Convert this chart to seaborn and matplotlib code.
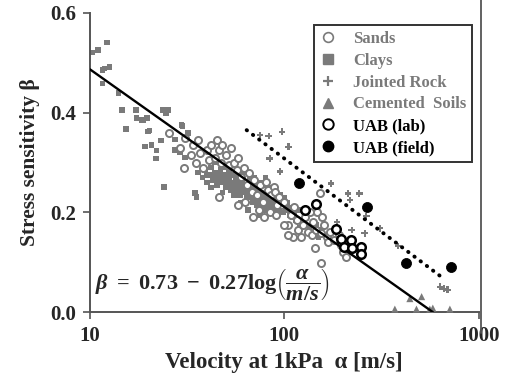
import numpy as np
import pandas as pd
import seaborn as sns
import matplotlib.pyplot as plt
from matplotlib.lines import Line2D

# Data (velocity alpha [m/s], stress sensitivity beta)
sands_x = [25.5, 29, 30.5, 31, 33, 34, 35, 36, 37, 38, 40, 41, 42, 44, 45, 46, 47, 48, 50, 52,
           53, 46, 55, 57, 58, 60, 62, 64, 66, 68, 70, 72, 75, 78, 80, 82, 85, 88, 90, 94,
           58, 63, 69, 74, 79, 84, 91, 96, 100, 104, 108, 111, 112, 116, 118, 122, 125, 128, 132, 135,
           138, 140, 143, 145, 148, 152, 155, 157, 160, 165, 168, 172, 155, 180, 190, 195, 200, 208, 215, 105,
           100, 92]
sands_y = [0.36, 0.33, 0.29, 0.35, 0.315, 0.335, 0.30, 0.345, 0.32, 0.29, 0.325, 0.305, 0.335, 0.31, 0.345, 0.325, 0.30, 0.335, 0.315, 0.295,
           0.33, 0.23, 0.30, 0.285, 0.31, 0.27, 0.29, 0.255, 0.28, 0.24, 0.265, 0.235, 0.255, 0.22, 0.26, 0.245, 0.235, 0.25, 0.24, 0.23,
           0.215, 0.22, 0.19, 0.205, 0.19, 0.20, 0.195, 0.215, 0.22, 0.175, 0.195, 0.15, 0.21, 0.185, 0.165, 0.15, 0.175, 0.19, 0.16, 0.20,
           0.155, 0.18, 0.128, 0.165, 0.20, 0.238, 0.158, 0.19, 0.175, 0.15, 0.14, 0.16, 0.098, 0.145, 0.155, 0.135, 0.12, 0.111, 0.125, 0.155,
           0.175, 0.215]

clays_x = [10.3, 11.0, 12.2, 11.6, 11.9, 12.6, 11.6, 14.0, 14.6, 15.3, 17.2, 17.4, 18.4, 19.6, 19.2, 20.2, 20.7, 22.0, 21.8, 23.2,
           23.8, 24.6, 25.3, 24.1, 29.9, 32.0, 34.6, 35.4, 27.4, 27.4, 29.6, 29, 30.8, 18.8, 19.9,
           36, 38, 39, 40, 41, 42, 43, 44, 45, 46, 47, 48, 49, 50, 51, 52, 53, 54, 55, 56,
           57, 58, 59, 60, 61, 62, 63, 64, 65, 66, 67, 68, 69, 70, 71, 72, 73, 74, 75, 76,
           77, 78, 79, 80, 81, 82, 83, 84, 85, 86, 87, 88, 89, 90, 92, 93, 95, 96, 98, 100,
           102, 104, 106, 108, 110, 112, 115, 118, 120, 125, 130, 135, 140, 145, 150, 155, 42, 50, 55, 60,
           65, 70, 75, 80, 44, 48,
           40, 43, 45, 47, 49, 51, 52, 54, 56, 57, 58, 60, 61, 62, 64, 65, 66, 68, 69, 70,
           72, 73, 74, 76, 77, 78, 80, 82, 83, 85, 86, 88, 90, 92, 94, 97, 99, 103, 107, 113]
clays_y = [0.521, 0.526, 0.541, 0.486, 0.489, 0.492, 0.459, 0.44, 0.405, 0.367, 0.405, 0.389, 0.385, 0.389, 0.332, 0.364, 0.335, 0.324, 0.308, 0.344,
           0.405, 0.399, 0.405, 0.251, 0.373, 0.359, 0.239, 0.231, 0.346, 0.325, 0.375, 0.32, 0.31, 0.385, 0.362,
           0.28, 0.27, 0.285, 0.26, 0.275, 0.29, 0.265, 0.28, 0.255, 0.27, 0.285, 0.26, 0.275, 0.25, 0.265, 0.28, 0.245, 0.26, 0.275, 0.24,
           0.255, 0.27, 0.235, 0.25, 0.265, 0.28, 0.24, 0.225, 0.255, 0.27, 0.235, 0.25, 0.22, 0.245, 0.26, 0.215, 0.23, 0.245, 0.26, 0.21,
           0.225, 0.24, 0.255, 0.205, 0.22, 0.235, 0.25, 0.215, 0.23, 0.245, 0.20, 0.215, 0.23, 0.245, 0.205, 0.22, 0.235, 0.20, 0.215, 0.23,
           0.205, 0.22, 0.195, 0.21, 0.19, 0.20, 0.185, 0.205, 0.17, 0.18, 0.19, 0.17, 0.16, 0.175, 0.15, 0.165, 0.25, 0.29, 0.235, 0.22,
           0.205, 0.27, 0.195, 0.27, 0.30, 0.24,
           0.275, 0.275, 0.265, 0.275, 0.265, 0.255, 0.27, 0.25, 0.265, 0.245, 0.26, 0.24, 0.255, 0.245, 0.235, 0.245, 0.26, 0.23, 0.24, 0.235,
           0.225, 0.24, 0.22, 0.235, 0.215, 0.23, 0.225, 0.21, 0.24, 0.22, 0.21, 0.225, 0.21, 0.225, 0.21, 0.22, 0.2, 0.21, 0.2, 0.19]

rock_x = [75, 83, 97, 105, 84, 95, 174, 213, 243, 217, 264, 222, 259, 310, 385, 630, 665, 690, 186]
rock_y = [0.355, 0.353, 0.362, 0.332, 0.308, 0.282, 0.258, 0.238, 0.238, 0.225, 0.192, 0.165, 0.158, 0.168, 0.133, 0.051, 0.047, 0.045, 0.18]

cemented_x = [442, 508, 370, 478, 560, 580, 710]
cemented_y = [0.027, 0.031, 0.006, 0.006, 0.006, 0.008, 0.006]

lab_x = [127, 145, 184, 195, 203, 219, 224, 249, 249]
lab_y = [0.205, 0.217, 0.166, 0.146, 0.131, 0.144, 0.129, 0.130, 0.116]

field_x = [118.7, 267, 422, 720]
field_y = [0.259, 0.210, 0.098, 0.090]

# fitted trend lines (end points)
fit_x = [10, 580]
fit_y = [0.487, 0.0]
upper_x = [64, 650]
upper_y = [0.365, 0.069]

sns.set_theme(style='ticks')
plt.rcParams['font.family'] = ['Liberation Serif', 'DejaVu Serif']
plt.rcParams['font.weight'] = 'bold'
plt.rcParams['mathtext.fontset'] = 'custom'
plt.rcParams['mathtext.rm'] = 'Liberation Serif:bold'
plt.rcParams['mathtext.it'] = 'Liberation Serif:bold:italic'
plt.rcParams['mathtext.bf'] = 'Liberation Serif:bold'

gray = '#7a7a7a'

fig = plt.figure(figsize=(5.11, 3.82), dpi=100)
ax = fig.add_axes([0.176, 0.183, 0.761, 0.783])

sands = pd.DataFrame({'x': sands_x, 'y': sands_y})
clays = pd.DataFrame({'x': clays_x, 'y': clays_y})
rock = pd.DataFrame({'x': rock_x, 'y': rock_y})
cem = pd.DataFrame({'x': cemented_x, 'y': cemented_y})
lab = pd.DataFrame({'x': lab_x, 'y': lab_y})
field = pd.DataFrame({'x': field_x, 'y': field_y})

sns.scatterplot(data=clays, x='x', y='y', ax=ax, marker='s', s=16, color=gray,
                edgecolor='none', zorder=2)
sns.scatterplot(data=sands, x='x', y='y', ax=ax, marker='o', s=26, facecolor='white',
                edgecolor=gray, linewidth=1.4, zorder=3)
sns.scatterplot(data=rock, x='x', y='y', ax=ax, marker='P', s=22, color=gray,
                edgecolor='none', zorder=3)
sns.scatterplot(data=cem, x='x', y='y', ax=ax, marker='^', s=26, color=gray,
                edgecolor='none', zorder=3, clip_on=False)
sns.lineplot(x=fit_x, y=fit_y, ax=ax, color='black', linewidth=1.7, zorder=4)
sns.lineplot(x=upper_x, y=upper_y, ax=ax, color='black', linewidth=2.8,
             linestyle=(0, (0.1, 1.9)), dash_capstyle='round', zorder=4)
sns.scatterplot(data=lab, x='x', y='y', ax=ax, marker='o', s=38, facecolor='white',
                edgecolor='black', linewidth=1.8, zorder=5)
sns.scatterplot(data=field, x='x', y='y', ax=ax, marker='o', s=52, color='black',
                edgecolor='black', zorder=5)

ax.set_xscale('log')
ax.set_xlim(10, 1000)
ax.set_ylim(0, 0.6)
ax.set_xticks([10, 100, 1000])
ax.set_xticklabels(['10', '100', '1000'])
ax.set_yticks([0.0, 0.2, 0.4, 0.6])
ax.set_yticklabels(['0.0', '0.2', '0.4', '0.6'])
ax.minorticks_off()
ax.tick_params(axis='both', direction='out', length=5, width=1.2, color='#555555',
               labelsize=15, pad=5)
for lab_t in ax.get_xticklabels() + ax.get_yticklabels():
    lab_t.set_fontweight('bold')
for side in ['top', 'right']:
    ax.spines[side].set_visible(False)
for side in ['left', 'bottom']:
    ax.spines[side].set_color('#555555')
    ax.spines[side].set_linewidth(1.4)

ax.set_xlabel('Velocity at 1kPa  α [m/s]', fontsize=16.5, fontweight='bold', labelpad=4)
ax.set_ylabel('Stress sensitivity β', fontsize=15.5, fontweight='bold', labelpad=7)

ax.text(10.6, 0.057, r'$\beta\ =\ 0.73\ -\ 0.27\mathrm{log}\left(\dfrac{\alpha}{m/s}\right)$',
        fontsize=16, ha='left', va='center', zorder=6)

handles = [
    Line2D([], [], marker='o', linestyle='none', markersize=7, markerfacecolor='white',
           markeredgecolor=gray, markeredgewidth=1.2),
    Line2D([], [], marker='s', linestyle='none', markersize=6.5, color=gray),
    Line2D([], [], marker='+', linestyle='none', markersize=7, color=gray, markeredgewidth=1.6),
    Line2D([], [], marker='^', linestyle='none', markersize=6.5, color=gray),
    Line2D([], [], marker='o', linestyle='none', markersize=7.5, markerfacecolor='white',
           markeredgecolor='black', markeredgewidth=1.4),
    Line2D([], [], marker='o', linestyle='none', markersize=7.5, color='black'),
]
labels = ['Sands', 'Clays', 'Jointed Rock', 'Cemented  Soils', 'UAB (lab)', 'UAB (field)']
leg = ax.legend(handles, labels, loc='upper right', bbox_to_anchor=(472 / 511, 1 - 25 / 382),
                bbox_transform=fig.transFigure, fontsize=12, frameon=True, fancybox=False,
                edgecolor='black', handletextpad=1.0, labelspacing=0.35, borderpad=0.35,
                handlelength=1.0, borderaxespad=0)
leg.get_frame().set_linewidth(1.4)
for i, t in enumerate(leg.get_texts()):
    t.set_fontweight('bold')
    t.set_color(gray if i < 4 else 'black')

# chart border on the right
fig.add_artist(Line2D([481 / 511, 481 / 511], [1 - 333 / 382, 1.0], transform=fig.transFigure,
                      color='#555555', linewidth=1.3))

fig.savefig('out.png', dpi=100)
